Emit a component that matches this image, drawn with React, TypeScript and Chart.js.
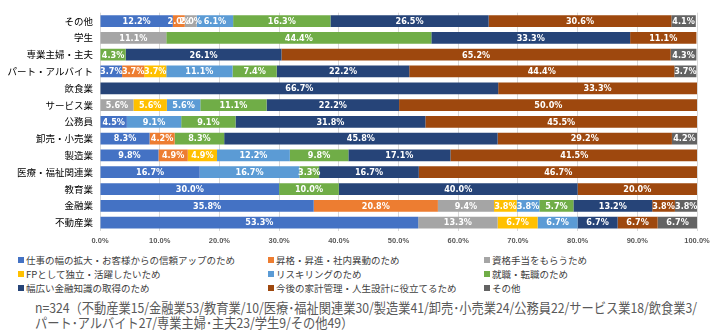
import React, { useEffect, useLayoutEffect, useRef } from "react";
import { Chart, registerables } from "chart.js";

Chart.register(...registerables);

const categories = [
  "その他",
  "学生",
  "専業主婦・主夫",
  "パート・アルバイト",
  "飲食業",
  "サービス業",
  "公務員",
  "卸売・小売業",
  "製造業",
  "医療・福祉関連業",
  "教育業",
  "金融業",
  "不動産業",
];

const seriesNames = [
  "仕事の幅の拡大・お客様からの信頼アップのため",
  "昇格・昇進・社内異動のため",
  "資格手当をもらうため",
  "FPとして独立・活躍したいため",
  "リスキリングのため",
  "就職・転職のため",
  "幅広い金融知識の取得のため",
  "今後の家計管理・人生設計に役立てるため",
  "その他",
];

const seriesColors = [
  "#4472C4",
  "#ED7D31",
  "#A5A5A5",
  "#FFC000",
  "#5B9BD5",
  "#70AD47",
  "#264478",
  "#9E480E",
  "#636363",
];

const shigotoValues = [12.2, null, null, 3.7, null, null, 4.5, 8.3, 9.8, 16.7, 30.0, 35.8, 53.3];
const shokakuValues = [2.0, null, null, 3.7, null, null, null, 4.2, 4.9, null, null, 20.8, null];
const teateValues = [2.0, 11.1, null, null, null, 5.6, null, null, null, null, null, 9.4, 13.3];
const dokuritsuValues = [null, null, null, 3.7, null, 5.6, null, null, 4.9, null, null, 3.8, 6.7];
const reskillValues = [6.1, null, null, 11.1, null, 5.6, 9.1, null, 12.2, 16.7, null, 3.8, 6.7];
const tenshokuValues = [16.3, 44.4, 4.3, 7.4, null, 11.1, 9.1, 8.3, 9.8, 3.3, 10.0, 5.7, null];
const kinyuValues = [26.5, 33.3, 26.1, 22.2, 66.7, 22.2, 31.8, 45.8, 17.1, 16.7, 40.0, 13.2, 6.7];
const kakeiValues = [30.6, 11.1, 65.2, 44.4, 33.3, 50.0, 45.5, 29.2, 41.5, 46.7, 20.0, 3.8, 6.7];
const sonotaValues = [4.1, null, 4.3, 3.7, null, null, null, 4.2, null, null, null, 3.8, 6.7];

const seriesValues = [
  shigotoValues,
  shokakuValues,
  teateValues,
  dokuritsuValues,
  reskillValues,
  tenshokuValues,
  kinyuValues,
  kakeiValues,
  sonotaValues,
];

const footerLines = [
  "n=324（不動産業15/金融業53/教育業/10/医療･福祉関連業30/製造業41/卸売･小売業24/公務員22/サービス業18/飲食業3/",
  "パート･アルバイト27/専業主婦･主夫23/学生9/その他49）",
];

const valueLabelPlugin = {
  id: "valueLabels",
  afterDatasetsDraw(chart: any) {
    const ctx = chart.ctx;
    ctx.save();
    ctx.font = 'bold 9px "Liberation Sans Narrow", "DejaVu Sans Condensed", "Liberation Sans", sans-serif';
    ctx.fillStyle = "#FFFFFF";
    ctx.textAlign = "center";
    ctx.textBaseline = "middle";
    chart.data.datasets.forEach((ds: any, di: number) => {
      const meta = chart.getDatasetMeta(di);
      meta.data.forEach((el: any, i: number) => {
        const v = ds.data[i];
        if (v === null || v === undefined) return;
        const cx = (el.x + el.base) / 2;
        ctx.fillText(v.toFixed(1) + "%", cx, el.y + 0.5);
      });
    });
    ctx.restore();
  },
};

export default function App() {
  const ref = useRef<HTMLCanvasElement | null>(null);
  const footerRefs = useRef<(HTMLSpanElement | null)[]>([]);

  useLayoutEffect(() => {
    const first = footerRefs.current[0];
    if (!first) return;
    const w = first.getBoundingClientRect().width;
    if (!w) return;
    const factor = 662 / w;
    footerRefs.current.forEach((el) => {
      if (el) el.style.transform = `scaleX(${factor})`;
    });
  }, []);

  useEffect(() => {
    if (!ref.current) return;
    const chart = new Chart(ref.current, {
      type: "bar",
      data: {
        labels: categories,
        datasets: seriesNames.map((name, i) => ({
          label: name,
          data: seriesValues[i],
          backgroundColor: seriesColors[i],
          borderWidth: 0,
          barPercentage: 0.7,
          categoryPercentage: 1,
          stack: "s",
        })),
      },
      options: {
        indexAxis: "y",
        responsive: false,
        animation: false,
        layout: { padding: { top: 9, right: 22, bottom: 1, left: 0 } },
        plugins: {
          legend: { display: false },
          tooltip: { enabled: false },
        },
        scales: {
          x: {
            stacked: true,
            min: 0,
            max: 100,
            grid: { color: "#D9D9D9", drawTicks: false },
            border: { display: false },
            ticks: {
              stepSize: 10,
              padding: 5,
              color: "#595959",
              font: { size: 7.5, weight: "bold", family: '"Liberation Sans", sans-serif' },
              callback: (v: any) => Number(v).toFixed(1) + "%",
            },
          },
          y: {
            stacked: true,
            grid: { display: false, drawTicks: false },
            border: { display: false },
            afterFit: (scale: any) => {
              scale.width = 100;
            },
            ticks: {
              padding: 7,
              color: "#000000",
              font: { size: 9.5, family: '"Noto Sans CJK JP", sans-serif' },
            },
          },
        },
      },
      plugins: [valueLabelPlugin],
    });
    return () => chart.destroy();
  }, []);

  const legendCols = [18, 268, 484];
  const legendRows = [260, 274, 288];

  return (
    <div
      style={{
        position: "absolute",
        left: 0,
        top: 0,
        width: 719,
        height: 330,
        background: "#FFFFFF",
        overflow: "hidden",
        fontFamily: '"Noto Sans CJK JP", sans-serif',
      }}
    >
      <canvas ref={ref} width={719} height={251} style={{ position: "absolute", left: 0, top: 0 }} />
      {seriesNames.map((name, i) => (
        <div
          key={name}
          style={{
            position: "absolute",
            left: legendCols[i % 3],
            top: legendRows[Math.floor(i / 3)] - 7,
            height: 14,
            display: "flex",
            alignItems: "center",
            fontSize: 9.5,
            color: "#404040",
            whiteSpace: "nowrap",
          }}
        >
          <span
            style={{
              display: "inline-block",
              width: 6,
              height: 6,
              background: seriesColors[i],
              marginRight: 2,
            }}
          />
          {name}
        </div>
      ))}
      {footerLines.map((line, i) => (
        <div
          key={i}
          style={{
            position: "absolute",
            left: 35,
            top: 299 + i * 15,
            height: 16,
            lineHeight: "16px",
            fontSize: 13.5,
            color: "#595959",
            whiteSpace: "nowrap",
          }}
        >
          <span
            ref={(el) => {
              footerRefs.current[i] = el;
            }}
            style={{ display: "inline-block", transformOrigin: "0 50%" }}
          >
            {line}
          </span>
        </div>
      ))}
    </div>
  );
}
